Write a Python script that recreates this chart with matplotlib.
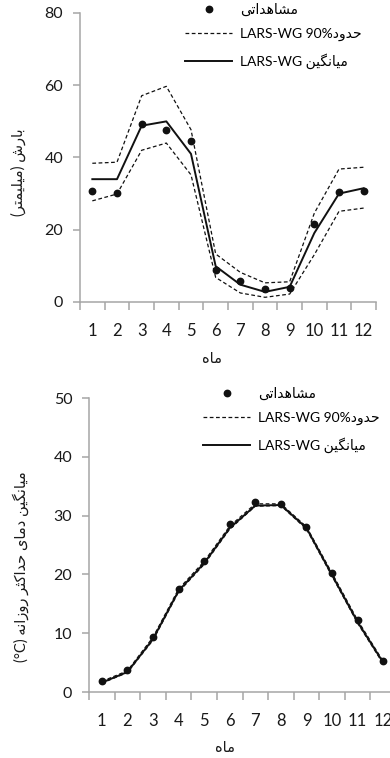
import matplotlib
matplotlib.use("Agg")
import matplotlib.pyplot as plt
import numpy as np
from matplotlib.lines import Line2D

# --- data ------------------------------------------------------------------
months = np.arange(1, 13)
month_labels = [str(m) for m in months]

# precipitation (mm)
rain_obs = [30.8, 30.1, 49.3, 47.6, 44.5, 8.9, 5.7, 3.7, 3.8, 21.6, 30.4, 30.8]
rain_mean = [34.0, 34.0, 48.8, 50.0, 41.0, 9.9, 4.8, 2.8, 4.2, 19.1, 30.0, 31.5]
rain_hi = [38.4, 38.7, 57.1, 59.7, 47.7, 13.3, 8.2, 5.3, 5.6, 24.6, 36.8, 37.3]
rain_lo = [28.0, 29.9, 42.0, 44.0, 35.2, 6.8, 2.5, 1.3, 2.2, 13.1, 25.1, 26.0]

# mean daily max temperature (C)
tmax_obs = [1.8, 3.8, 9.4, 17.6, 22.3, 28.6, 32.3, 32.0, 28.1, 20.3, 12.3, 5.2]
tmax_mean = [1.6, 3.4, 9.0, 17.2, 21.9, 27.9, 31.7, 31.8, 27.9, 19.9, 11.9, 5.0]
tmax_hi = [1.8, 3.6, 9.3, 17.5, 22.2, 28.2, 32.0, 32.0, 28.1, 20.2, 12.2, 5.2]
tmax_lo = [1.5, 3.3, 8.8, 17.0, 21.7, 27.7, 31.6, 31.7, 27.7, 19.7, 11.7, 4.8]

# --- minimal Persian shaping (no reshaper lib available) --------------------
# letter -> (isolated, final, initial, medial); right-joining letters have 2 forms
FORMS = {
    "ا": "\uFE8D\uFE8E", "ب": "\uFE8F\uFE90\uFE91\uFE92",
    "ت": "\uFE95\uFE96\uFE97\uFE98", "ث": "\uFE99\uFE9A\uFE9B\uFE9C",
    "ح": "\uFEA1\uFEA2\uFEA3\uFEA4", "د": "\uFEA9\uFEAA",
    "ر": "\uFEAD\uFEAE", "ز": "\uFEAF\uFEB0",
    "ش": "\uFEB5\uFEB6\uFEB7\uFEB8", "ل": "\uFEDD\uFEDE\uFEDF\uFEE0",
    "م": "\uFEE1\uFEE2\uFEE3\uFEE4", "ن": "\uFEE5\uFEE6\uFEE7\uFEE8",
    "ه": "\uFEE9\uFEEA\uFEEB\uFEEC", "و": "\uFEED\uFEEE",
    "ی": "\uFBFC\uFBFD\uFBFE\uFBFF", "ک": "\uFB8E\uFB8F\uFB90\uFB91",
    "گ": "\uFB92\uFB93\uFB94\uFB95",
}
MIRROR = {"(": ")", ")": "("}


def fa(text):
    """Shape Persian text and return it in visual (left-to-right) order."""
    out = []
    for i, ch in enumerate(text):
        if ch not in FORMS:
            out.append(MIRROR.get(ch, ch))
            continue
        prev = text[i - 1] if i > 0 else ""
        nxt = text[i + 1] if i + 1 < len(text) else ""
        j_prev = prev in FORMS and len(FORMS[prev]) == 4
        j_next = len(FORMS[ch]) == 4 and nxt in FORMS
        f = FORMS[ch]
        if j_prev and j_next:
            out.append(f[3])
        elif j_prev:
            out.append(f[1])
        elif j_next:
            out.append(f[2])
        else:
            out.append(f[0])
    return "".join(out[::-1])


LAB_OBS = fa("مشاهداتی")
LAB_BOUND = "LARS-WG 90%" + fa("حدود")
LAB_MEAN = "LARS-WG " + fa("میانگین")
XLABEL = fa("ماه")
YLABEL_TOP = fa("بارش (میلیمتر)")
YLABEL_BOT = "(°C) " + fa("میانگین دمای حداکثر روزانه")

FAM = ["Lato", "DejaVu Sans"]
plt.rcParams["font.family"] = FAM
TXT = "#1a1a1a"
AX_GRAY = "#a6a6a6"


def style_axes(ax, ymax, ystep):
    ax.set_xlim(0.5, 12.5)
    ax.set_ylim(0, ymax)
    for s in ("top", "right"):
        ax.spines[s].set_visible(False)
    for s in ("left", "bottom"):
        ax.spines[s].set_color(AX_GRAY)
        ax.spines[s].set_linewidth(1.1)
    ax.set_yticks(np.arange(0, ymax + 1, ystep))
    ax.tick_params(axis="y", length=5, color=AX_GRAY, width=1.1,
                   labelsize=11.5, pad=7, labelcolor=TXT)
    # category-boundary ticks, labels on category centres
    ax.set_xticks(np.arange(0.5, 13, 1.0))
    ax.set_xticklabels([])
    ax.set_xticks(months, minor=True)
    ax.set_xticklabels(month_labels, minor=True)
    ax.tick_params(axis="x", which="major", length=6, color=AX_GRAY, width=1.1)
    ax.tick_params(axis="x", which="minor", length=0, labelsize=12,
                   pad=15, labelcolor=TXT)


def draw(ax, obs, mean, hi, lo):
    dash = dict(color="#111111", lw=0.9, ls=(0, (3, 2)))
    ax.plot(months, hi, **dash)
    ax.plot(months, lo, **dash)
    ax.plot(months, mean, color="#111111", lw=1.4)
    ax.plot(months, obs, ls="none", marker="o", ms=4.6, color="#111111")


def legend(ax, x, y):
    handles = [
        Line2D([], [], ls="none", marker="o", ms=4.6, color="#111111"),
        Line2D([], [], color="#111111", lw=0.9, ls=(0, (3, 2))),
        Line2D([], [], color="#111111", lw=1.4),
    ]
    ax.legend(handles, [LAB_OBS, LAB_BOUND, LAB_MEAN], loc="upper left",
              bbox_to_anchor=(x, y), bbox_transform=fig.transFigure,
              frameon=False, fontsize=10, handlelength=3.4, handletextpad=0.58,
              labelspacing=0.85, borderpad=0, borderaxespad=0)


fig = plt.figure(figsize=(3.9, 7.58), dpi=100)

# top panel: precipitation
ax1 = fig.add_axes([80 / 390, 1 - 302 / 758, 296 / 390, 289 / 758])
draw(ax1, rain_obs, rain_mean, rain_hi, rain_lo)
style_axes(ax1, 80, 20)
legend(ax1, 185 / 390, 1 - 3 / 758)
fig.text(18 / 390, 1 - 172 / 758, YLABEL_TOP, rotation=90, ha="center",
         va="center", fontsize=10.5, color=TXT, family=FAM)
fig.text(212 / 390, 1 - 359 / 758, XLABEL, ha="center", va="center",
         fontsize=10.5, color=TXT, family=FAM)

# bottom panel: max temperature (axis runs past the right edge, as in source)
ax2 = fig.add_axes([89 / 390, 1 - 692 / 758, 307 / 390, 294 / 758])
draw(ax2, tmax_obs, tmax_mean, tmax_hi, tmax_lo)
style_axes(ax2, 50, 10)
legend(ax2, 203 / 390, 1 - 387 / 758)
fig.text(21 / 390, 1 - 567 / 758, YLABEL_BOT, rotation=90, ha="center",
         va="center", fontsize=10.5, color=TXT, family=FAM)
fig.text(225 / 390, 1 - 748 / 758, XLABEL, ha="center", va="center",
         fontsize=10.5, color=TXT, family=FAM)

fig.savefig("out.png", dpi=100)
